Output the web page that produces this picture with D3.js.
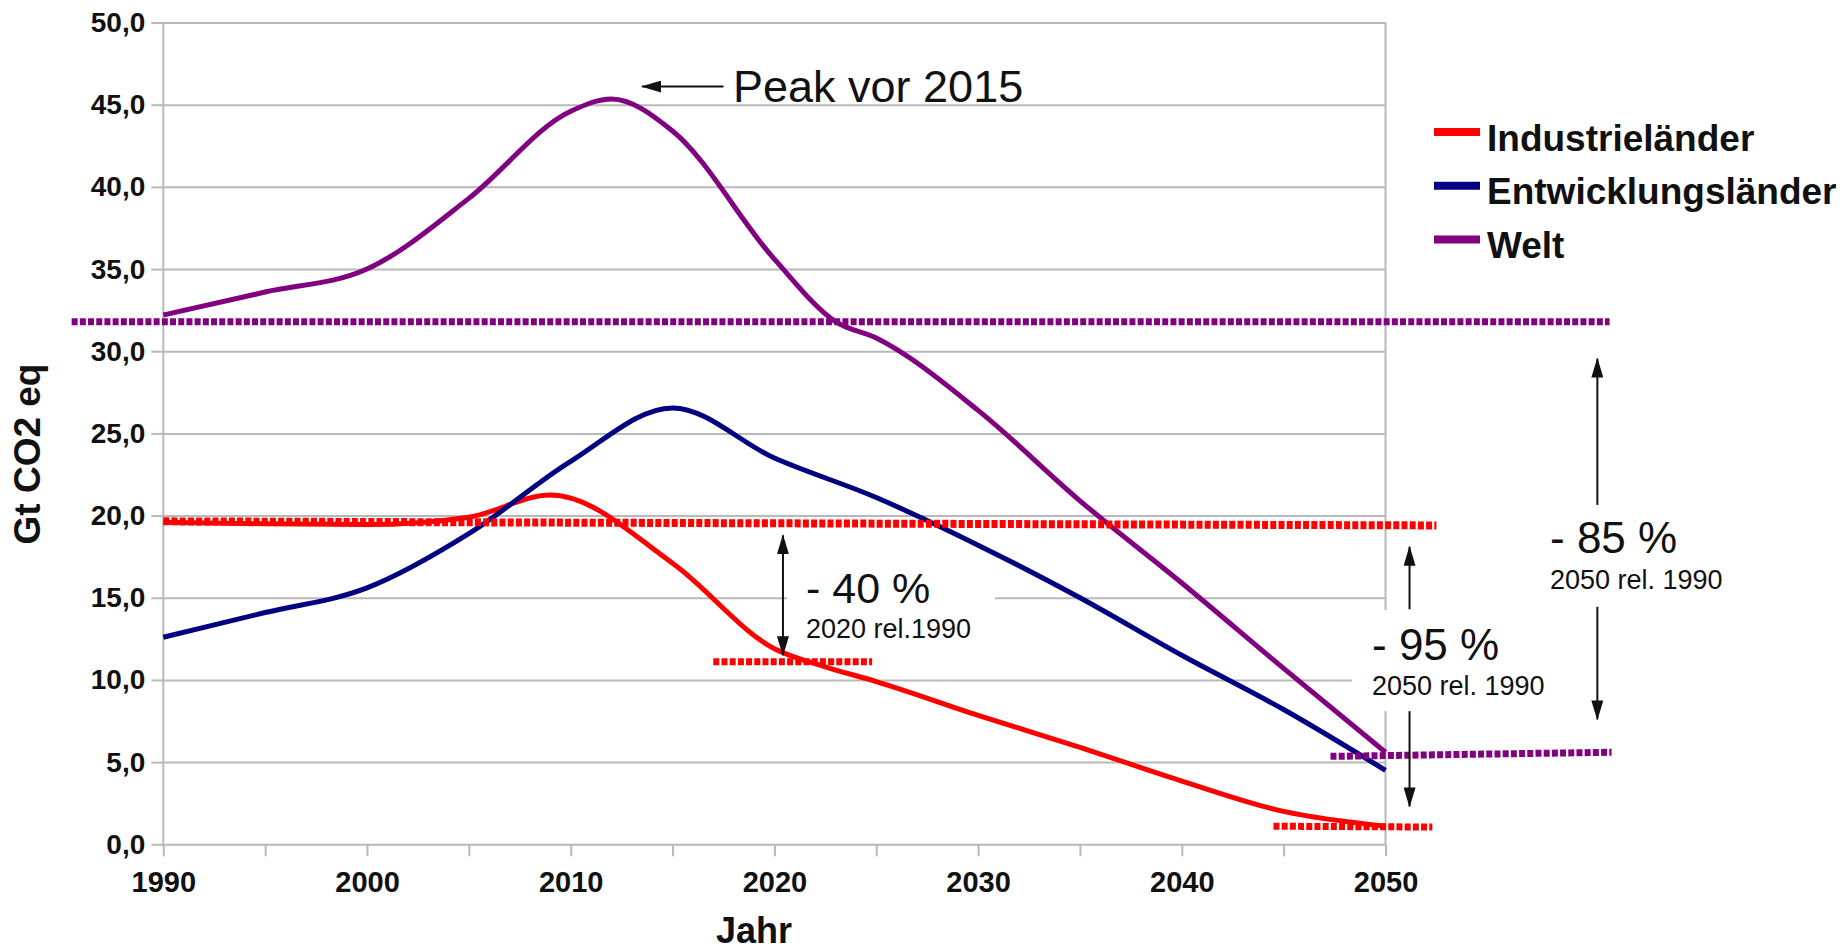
<!DOCTYPE html>
<html lang="de">
<head>
<meta charset="utf-8">
<title>Emissionen Gt CO2 eq</title>
<script src="https://d3js.org/d3.v7.min.js"></script>
<style>
  body { margin: 0; background: white; }
  svg text { font-family: 'Liberation Sans', Arial, sans-serif; }
  .axis path.domain { display: none; }
  .axis line { stroke: #b9b9b9; stroke-width: 2; }
  .axis text { font-weight: bold; font-size: 29px; fill: #111; }
  .grid line { stroke: #b9b9b9; stroke-width: 2; }
  .grid path, .grid text { display: none; }
</style>
</head>
<body>
<svg id="chart" width="1843" height="952"></svg>
<script>
// DATA
const yTicks = [0, 5, 10, 15, 20, 25, 30, 35, 40, 45, 50];
const xTicks = [1990, 1995, 2000, 2005, 2010, 2015, 2020, 2025, 2030, 2035, 2040, 2045, 2050];
const xLabels = [1990, 2000, 2010, 2020, 2030, 2040, 2050];

const industrieJahre = [1990, 1995, 2000, 2005, 2009, 2015, 2020, 2022.5, 2025, 2030, 2035, 2040, 2045, 2050];
const industrieWerte = [19.6, 19.5, 19.45, 19.9, 21.25, 17.1, 11.9, 10.8, 9.9, 7.85, 5.9, 3.85, 2.0, 1.1];

const entwicklungJahre = [1990, 1995, 2000, 2005, 2010, 2015, 2020, 2025, 2030, 2035, 2040, 2045, 2050];
const entwicklungWerte = [12.6, 14.1, 15.6, 18.9, 23.3, 26.55, 23.5, 21.1, 18.2, 15.0, 11.5, 8.2, 4.5];

const weltJahre = [1990, 1995, 2000, 2005, 2010, 2012, 2015, 2020, 2023, 2025, 2030, 2035, 2040, 2045, 2050];
const weltWerte = [32.2, 33.6, 35.0, 39.3, 44.6, 45.35, 43.4, 35.6, 31.8, 30.8, 26.4, 20.9, 15.9, 10.7, 5.6];

const legendNames = ["Industrieländer", "Entwicklungsländer", "Welt"];
const colors = ["#ff0000", "#000080", "#800080"];

// reference levels (dotted): [startJahr, endJahr, startWert, endWert]
const refIndustrie1990 = [1990, 2052.5, 19.65, 19.4];
const refIndustrie2020 = [2017.0, 2024.8, 11.1, 11.1];
const refIndustrie2050 = [2044.5, 2052.3, 1.1, 1.05];
const refWelt1990 = [1985.5, 2061.0, 31.8, 31.8];
const refWelt2050 = [2047.3, 2061.1, 5.35, 5.6];

const svg = d3.select("#chart");

svg.append("rect").attr("width", 1843).attr("height", 952).attr("fill", "white");

const x = d3.scaleLinear().domain([1990, 2050]).range([163.3, 1385.5]);
const y = d3.scaleLinear().domain([0, 50]).range([844.3, 22.5]);
const plotW = x(2050) - x(1990);

const de = d3.formatLocale({ decimal: ",", thousands: ".", grouping: [3], currency: ["", "€"] });
const fmt = de.format(".1f");

// GRID
svg.append("g")
   .attr("class", "grid")
   .attr("transform", "translate(" + x(1990) + ",0)")
   .call(d3.axisLeft(y).tickValues(yTicks).tickSize(-plotW).tickFormat(""));

// left axis line + right frame at 2050
svg.append("line")
   .attr("x1", x(1990)).attr("x2", x(1990)).attr("y1", y(50)).attr("y2", y(0))
   .attr("stroke", "#b9b9b9").attr("stroke-width", 2);
svg.append("line")
   .attr("x1", x(2050)).attr("x2", x(2050)).attr("y1", y(50)).attr("y2", y(0))
   .attr("stroke", "#b9b9b9").attr("stroke-width", 2);

// AXES
const yAxis = svg.append("g")
   .attr("class", "axis")
   .attr("transform", "translate(" + x(1990) + ",0)")
   .call(d3.axisLeft(y).tickValues(yTicks).tickSize(12).tickPadding(6).tickFormat(fmt));
yAxis.selectAll("text").style("font-size", "28px");

svg.append("g")
   .attr("class", "axis")
   .attr("transform", "translate(0," + y(0) + ")")
   .call(d3.axisBottom(x).tickValues(xTicks).tickSize(12).tickPadding(15)
           .tickFormat(d => xLabels.includes(d) ? d : ""));

// axis titles
svg.append("text")
   .attr("transform", "translate(40,454) rotate(-90)")
   .attr("text-anchor", "middle")
   .style("font-weight", "bold").style("font-size", "37px").attr("fill", "#111")
   .text("Gt CO2 eq");

svg.append("text")
   .attr("x", 754).attr("y", 943)
   .attr("text-anchor", "middle")
   .style("font-weight", "bold").style("font-size", "36px").attr("fill", "#111")
   .text("Jahr");

// white boxes behind the annotation labels
const boxes = [[787, 562, 208, 86], [1352, 610, 208, 101], [1540, 505, 200, 102]];
svg.selectAll("rect.box").data(boxes)
   .join("rect")
   .attr("class", "box")
   .attr("x", d => d[0]).attr("y", d => d[1])
   .attr("width", d => d[2]).attr("height", d => d[3])
   .attr("fill", "white");

// SERIES
const line = d3.line()
   .x(d => x(d[0]))
   .y(d => y(d[1]))
   .curve(d3.curveMonotoneX);

const series = [
  d3.zip(industrieJahre, industrieWerte),
  d3.zip(entwicklungJahre, entwicklungWerte),
  d3.zip(weltJahre, weltWerte)
];

svg.selectAll("path.series").data(series)
   .join("path")
   .attr("class", "series")
   .attr("fill", "none")
   .attr("stroke", (d, i) => colors[i])
   .attr("stroke-width", 5)
   .attr("stroke-linejoin", "round")
   .attr("d", line);

// DOTTED REFERENCE LEVELS
const refs = [
  { r: refIndustrie1990, c: colors[0], w: 8 },
  { r: refIndustrie2020, c: colors[0], w: 7 },
  { r: refIndustrie2050, c: colors[0], w: 7 },
  { r: refWelt1990, c: colors[2], w: 7 },
  { r: refWelt2050, c: colors[2], w: 7 }
];
svg.selectAll("line.ref").data(refs)
   .join("line")
   .attr("class", "ref")
   .attr("x1", d => x(d.r[0])).attr("x2", d => x(d.r[1]))
   .attr("y1", d => y(d.r[2])).attr("y2", d => y(d.r[3]))
   .attr("stroke", d => d.c)
   .attr("stroke-width", d => d.w)
   .attr("stroke-dasharray", "6,2.2");

// ARROWS
svg.append("defs").append("marker")
   .attr("id", "head")
   .attr("markerUnits", "userSpaceOnUse")
   .attr("viewBox", "0 0 20 12")
   .attr("refX", 19).attr("refY", 6)
   .attr("markerWidth", 20).attr("markerHeight", 12)
   .attr("orient", "auto-start-reverse")
   .append("path")
   .attr("d", "M0,0 L20,6 L0,12 Z")
   .attr("fill", "#111");

// [x1, y1, x2, y2, headAtStart, headAtEnd] in data units
const arrows = [
  [2017.5, 46.1, 2013.5, 46.1, false, true],
  [2020.42, 18.8, 2020.42, 11.5, true, true],
  [2051.18, 14.3, 2051.18, 18.1, false, true],
  [2051.18, 8.1, 2051.18, 2.3, false, true],
  [2060.4, 20.65, 2060.4, 29.55, false, true],
  [2060.4, 14.45, 2060.4, 7.6, false, true]
];
svg.selectAll("line.arrow").data(arrows)
   .join("line")
   .attr("class", "arrow")
   .attr("x1", d => x(d[0])).attr("y1", d => y(d[1]))
   .attr("x2", d => x(d[2])).attr("y2", d => y(d[3]))
   .attr("stroke", "#111").attr("stroke-width", 2)
   .attr("marker-start", d => d[4] ? "url(#head)" : null)
   .attr("marker-end", d => d[5] ? "url(#head)" : null);

// ANNOTATION TEXT
const notes = [
  [733, 101.7, 45, "Peak vor 2015"],
  [806, 603, 43, "- 40 %"],
  [806, 638, 27, "2020 rel.1990"],
  [1372, 660, 44, "- 95 %"],
  [1372, 695, 27, "2050 rel. 1990"],
  [1550, 553, 44, "- 85 %"],
  [1550, 589, 27, "2050 rel. 1990"]
];
svg.selectAll("text.note").data(notes)
   .join("text")
   .attr("class", "note")
   .attr("x", d => d[0]).attr("y", d => d[1])
   .style("font-size", d => d[2] + "px")
   .attr("fill", "#111")
   .text(d => d[3]);

// LEGEND
const legend = svg.append("g").attr("transform", "translate(1434,132)");
legendNames.forEach((name, i) => {
  legend.append("line")
     .attr("x1", 0).attr("x2", 46)
     .attr("y1", i * 53.8).attr("y2", i * 53.8)
     .attr("stroke", colors[i]).attr("stroke-width", 8);
  legend.append("text")
     .attr("x", 53).attr("y", i * 53.8 + 18.5)
     .style("font-weight", "bold").style("font-size", "37px").attr("fill", "#111")
     .text(name);
});
</script>
</body>
</html>
